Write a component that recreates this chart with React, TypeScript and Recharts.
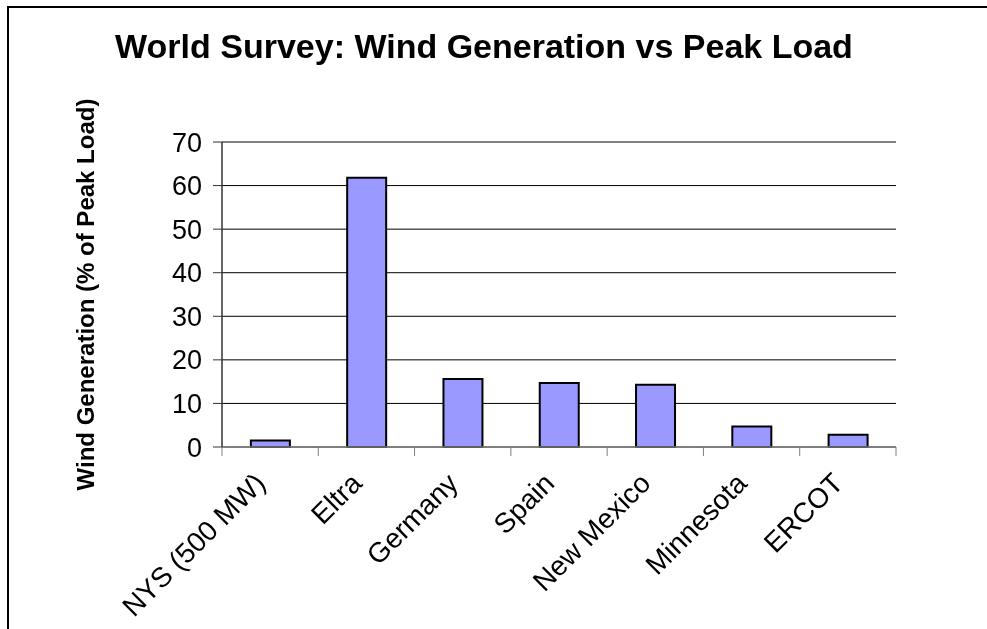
import React from "react";
import { BarChart, Bar, XAxis, YAxis, CartesianGrid } from "recharts";

const categories = ["NYS (500 MW)", "Eltra", "Germany", "Spain", "New Mexico", "Minnesota", "ERCOT"];
const windPct = [1.5, 61.8, 15.6, 14.7, 14.3, 4.7, 2.8];
const yTicks = [0, 10, 20, 30, 40, 50, 60, 70];
const titleText = "World Survey: Wind Generation vs Peak Load";
const yLabelText = "Wind Generation (% of Peak Load)";

const data = categories.map((name, i) => ({ name, value: windPct[i] }));

const W = 979;
const H = 621;
const M = { top: 134, right: 91, left: 154, bottom: 82 };
const Y_W = 60;
const X_H = 100;
const PLOT_W = W - M.left - Y_W - M.right;
const BAND = PLOT_W / categories.length;
const FONT = "'Liberation Sans', Arial, Helvetica, sans-serif";

function XTick(props: any) {
  const { x, y, payload, index } = props;
  const half = BAND / 2;
  return (
    <g>
      <line x1={x - half} x2={x - half} y1={y} y2={y + 9} stroke="#7f7f7f" strokeWidth={1} />
      {index === categories.length - 1 && (
        <line x1={x + half} x2={x + half} y1={y} y2={y + 9} stroke="#7f7f7f" strokeWidth={1} />
      )}
      <text
        transform={`translate(${x - 3},${y + 38}) rotate(-45)`}
        textAnchor="end"
        fontSize={28}
        fontFamily={FONT}
        fill="#000"
      >
        {payload.value}
      </text>
    </g>
  );
}

function YLabel(props: any) {
  const vb = props.viewBox || { y: 0, height: 0 };
  const cy = vb.y + vb.height / 2;
  return (
    <text
      transform={`translate(86,${cy}) rotate(-90)`}
      textAnchor="middle"
      fontSize={24}
      fontWeight="bold"
      fontFamily={FONT}
      fill="#000"
    >
      {yLabelText}
    </text>
  );
}

export default function App() {
  return (
    <div style={{ position: "relative", width: W, height: H, fontFamily: FONT }}>
      <style>{`html,body{overflow:hidden}`}</style>
      <div
        style={{
          position: "fixed",
          left: 7,
          top: 6,
          right: -10,
          bottom: -10,
          borderTop: "2px solid #000",
          borderLeft: "2px solid #000",
          pointerEvents: "none",
        }}
      />
      <svg
        width={W}
        height={80}
        style={{ position: "absolute", left: 0, top: 0, pointerEvents: "none" }}
      >
        <text
          x={476}
          y={50}
          textAnchor="middle"
          fontSize={34}
          fontWeight="bold"
          fontFamily={FONT}
          fill="#000"
        >
          {titleText}
        </text>
      </svg>
      <BarChart width={W} height={H} data={data} margin={M} barCategoryGap="30%">
        <CartesianGrid vertical={false} stroke="#000" strokeWidth={1} />
        <XAxis
          dataKey="name"
          height={X_H}
          interval={0}
          tickSize={0}
          tickMargin={0}
          tickLine={false}
          axisLine={{ stroke: "#7f7f7f", strokeWidth: 1.5 }}
          tick={<XTick />}
        />
        <XAxis
          xAxisId="top"
          dataKey="name"
          orientation="top"
          height={0}
          tick={false}
          tickLine={false}
          axisLine={{ stroke: "#999", strokeWidth: 2 }}
        />
        <YAxis
          width={Y_W}
          domain={[0, 70]}
          ticks={yTicks}
          interval={0}
          tickSize={9}
          tickMargin={11}
          tickLine={{ stroke: "#333" }}
          axisLine={{ stroke: "#333", strokeWidth: 1.5 }}
          tick={{ fontSize: 27, fill: "#000", fontFamily: FONT }}
          label={<YLabel />}
        />
        <YAxis
          yAxisId="right"
          orientation="right"
          width={0}
          domain={[0, 70]}
          tick={false}
          tickLine={false}
          axisLine={{ stroke: "#999", strokeWidth: 2 }}
        />
        <Bar dataKey="value" fill="#9999ff" stroke="#000" strokeWidth={2} isAnimationActive={false} />
      </BarChart>
    </div>
  );
}
